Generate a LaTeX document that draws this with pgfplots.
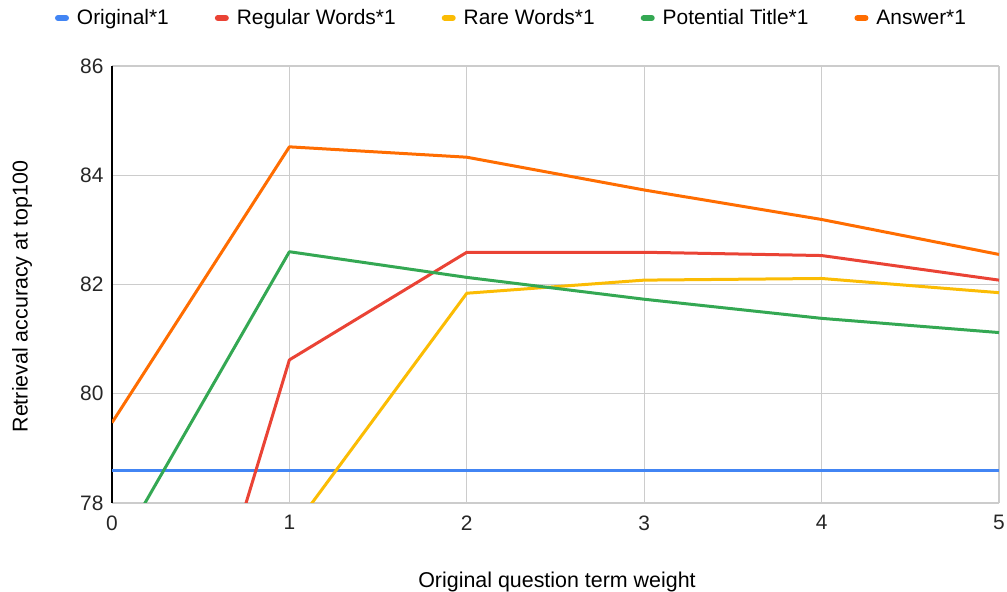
\documentclass[border=0pt]{standalone}
\usepackage{pgfplots}
\pgfplotsset{compat=1.18}
\usepackage{fontspec}
\setmainfont{Liberation Sans}
\definecolor{cBlue}{HTML}{4285F4}
\definecolor{cRed}{HTML}{EA4335}
\definecolor{cYellow}{HTML}{FBBC04}
\definecolor{cGreen}{HTML}{34A853}
\definecolor{cOrange}{HTML}{FF6D01}
\definecolor{cGrid}{HTML}{CCCCCC}
\begin{document}
\begin{tikzpicture}
\path[use as bounding box] (0,0) rectangle (1007bp,592bp);
\begin{axis}[
  at={(112bp,89bp)}, anchor=south west,
  scale only axis, width=887bp, height=437bp,
  xmin=0, xmax=5, ymin=78, ymax=86,
  xtick={0,1,2,3,4,5}, ytick={78,80,82,84,86},
  major tick length=0pt,
  grid=major,
  major grid style={cGrid, line width=1.3bp},
  axis x line*=bottom, axis y line*=left,
  x axis line style={draw=none, -},
  y axis line style={black, line width=1.3bp, -},
  /pgf/number format/assume math mode=true,
  tick label style={font=\fontsize{21}{24}\selectfont, color=black!85},
  xticklabel style={yshift=-9bp},
  yticklabel style={xshift=-5bp},
  xlabel={Original question term weight},
  ylabel={Retrieval accuracy at top100},
  label style={font=\fontsize{21.5}{24}\selectfont},
  xlabel style={at={(axis description cs:0.5017,-0.1945)}, anchor=base},
  ylabel style={at={(axis description cs:-0.1015,0.472)}, anchor=center},
  legend columns=5,
  legend style={at={(axis description cs:0.4504,1.1098)}, anchor=center, draw=none, fill=none,
    font=\fontsize{21}{24}\selectfont,
    /tikz/every even column/.append style={column sep=44bp},
    /tikz/every odd column/.append style={column sep=6bp}},
  legend image code/.code={\draw[#1, line width=6bp, line cap=round] (3bp,0bp) -- (11bp,0bp);},
  every axis plot/.append style={line width=3bp, line join=round},
]
\addplot[cBlue] coordinates {(0,78.6) (1,78.6) (2,78.6) (3,78.6) (4,78.6) (5,78.6)};
\addlegendentry{Original*1}
\addplot[cRed] coordinates {(0,69.9) (1,80.62) (2,82.59) (3,82.59) (4,82.53) (5,82.08)};
\addlegendentry{Regular Words*1}
\addplot[cYellow] coordinates {(0,74.0) (1,77.44) (2,81.84) (3,82.08) (4,82.11) (5,81.85)};
\addlegendentry{Rare Words*1}
\addplot[cGreen] coordinates {(0,76.95) (1,82.6) (2,82.13) (3,81.73) (4,81.38) (5,81.12)};
\addlegendentry{Potential Title*1}
\addplot[cOrange] coordinates {(0,79.47) (1,84.52) (2,84.33) (3,83.73) (4,83.19) (5,82.55)};
\addlegendentry{Answer*1}
\end{axis}
\end{tikzpicture}
\end{document}
